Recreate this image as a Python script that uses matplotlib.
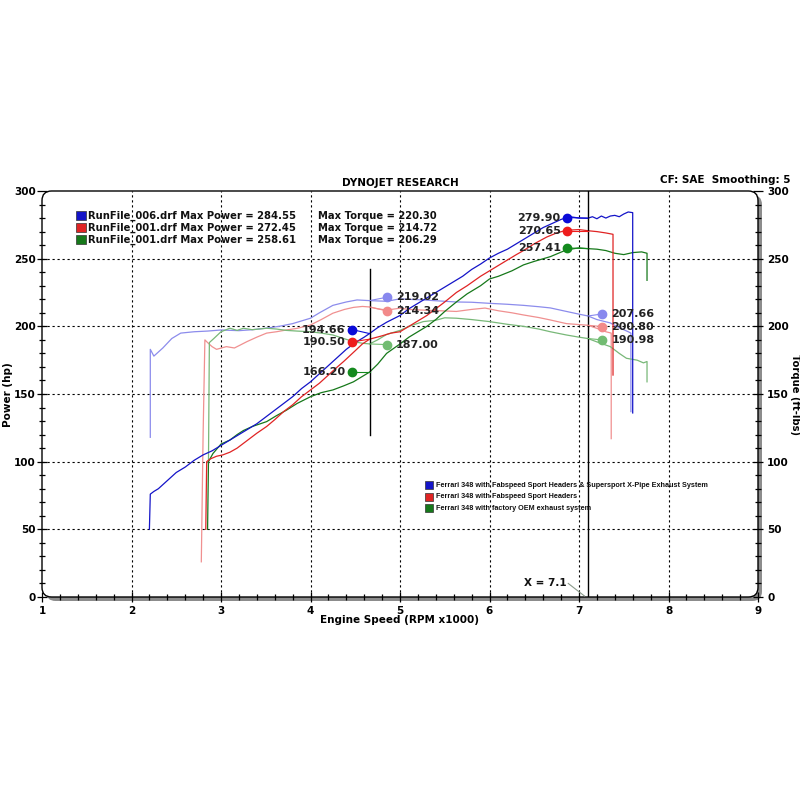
import numpy as np
import matplotlib
matplotlib.use('Agg')
import matplotlib.pyplot as plt
from matplotlib.patches import FancyBboxPatch, Rectangle

# run 006 - Fabspeed headers + X-pipe (blue)
blue_hp_rpm = [2.20, 2.21, 2.25, 2.30, 2.40, 2.50, 2.60, 2.70, 2.80, 2.90, 3.00, 3.10, 3.20,
               3.30, 3.40, 3.50, 3.60, 3.70, 3.80, 3.90, 4.00, 4.10, 4.20, 4.30, 4.40, 4.50,
               4.60, 4.66, 4.75, 4.85, 5.00, 5.10, 5.20, 5.30, 5.40, 5.50, 5.60, 5.70, 5.80,
               5.90, 6.00, 6.10, 6.20, 6.30, 6.40, 6.50, 6.60, 6.70, 6.80, 6.90, 7.00, 7.10,
               7.15, 7.20, 7.25, 7.30, 7.35, 7.40, 7.45, 7.50, 7.55, 7.60, 7.60]
blue_hp = [50, 76, 78, 80, 86, 92, 96, 101, 105, 108, 112, 116, 120,
           124, 128, 133, 138, 143, 148, 154, 159, 165, 171, 177, 183, 188,
           192, 194.7, 199, 203, 208, 213, 217, 221, 225, 229, 233, 237, 242,
           246, 250.5, 254, 257, 261, 265, 269, 273, 276, 279, 281, 280, 279.9,
           281, 279.5, 281.5, 280, 281.5, 282, 281, 283, 284.5, 284, 136]
blue_tq_rpm = [2.21, 2.21, 2.25, 2.30, 2.35, 2.45, 2.55, 2.70, 2.85, 3.00, 3.20, 3.35, 3.50,
               3.65, 3.80, 4.00, 4.10, 4.25, 4.40, 4.52, 4.66, 4.85, 5.00, 5.15, 5.26, 5.45,
               5.63, 5.80, 6.00, 6.20, 6.38, 6.55, 6.68, 6.86, 7.00, 7.10, 7.20, 7.35, 7.45,
               7.55, 7.58, 7.58]
blue_tq = [118, 183, 178, 181, 184, 191, 195, 196, 196.5, 197.3, 196.8, 197.5, 198.6,
           200, 202, 206, 210, 215.5, 218, 219.5, 219, 218.5, 220.3, 219.8, 219.5, 218.7,
           218, 217.8, 217, 216.3, 215.5, 214.5, 213.6, 211, 209, 207.66, 205, 202.5, 199,
           196, 195, 137]

# run 001 - Fabspeed headers (red)
red_hp_rpm = [2.83, 2.84, 2.88, 2.95, 3.02, 3.10, 3.18, 3.30, 3.40, 3.51, 3.60, 3.70, 3.80,
              3.90, 4.00, 4.10, 4.20, 4.30, 4.37, 4.50, 4.58, 4.66, 4.80, 4.90, 5.00, 5.10,
              5.20, 5.30, 5.40, 5.50, 5.63, 5.75, 5.90, 6.00, 6.10, 6.20, 6.30, 6.38, 6.50,
              6.64, 6.75, 6.86, 7.00, 7.10, 7.20, 7.30, 7.38, 7.38]
red_hp = [50, 100, 102, 104, 105, 107, 110, 116, 121, 126, 131, 137, 142,
          148, 153, 158, 164, 170, 174, 182, 187, 190.5, 193, 195, 196, 200,
          204, 208, 213, 218, 225, 230, 237, 241, 245, 249, 253, 256, 261,
          266, 269, 271, 271.5, 270.65, 270, 269, 268, 164]
red_tq_rpm = [2.78, 2.80, 2.82, 2.85, 2.90, 2.95, 3.06, 3.15, 3.21, 3.29, 3.40, 3.51, 3.62,
              3.73, 3.85, 4.00, 4.12, 4.25, 4.38, 4.48, 4.58, 4.66, 4.75, 4.85, 5.00, 5.10,
              5.26, 5.45, 5.63, 5.80, 5.95, 6.10, 6.25, 6.38, 6.55, 6.68, 6.86, 7.00, 7.10,
              7.20, 7.30, 7.36, 7.36]
red_tq = [26, 120, 190, 188, 185, 183, 185, 184, 186, 188.7, 192, 195, 196,
          197.3, 198.5, 201, 205, 209.7, 212.5, 214, 214.7, 214.3, 213, 212, 213.4, 212.5,
          212, 211.5, 211, 212.5, 213.5, 211.5, 210, 208.4, 206.5, 204.7, 202, 201.3, 200.8,
          198.5, 196, 195, 117]

# run 001 - factory OEM exhaust (green)
green_hp_rpm = [2.85, 2.86, 2.91, 3.00, 3.10, 3.18, 3.25, 3.35, 3.51, 3.62, 3.73, 3.85, 4.00,
                4.12, 4.25, 4.37, 4.48, 4.58, 4.66, 4.75, 4.85, 5.00, 5.10, 5.20, 5.30, 5.40,
                5.50, 5.63, 5.75, 5.90, 6.00, 6.10, 6.25, 6.38, 6.50, 6.68, 6.86, 7.00, 7.10,
                7.20, 7.30, 7.40, 7.50, 7.60, 7.70, 7.76, 7.76]
green_hp = [50, 100, 106, 113, 116, 120, 123, 126, 129.6, 134, 138, 143, 148,
            151, 153, 156, 159, 163, 166.2, 172, 180, 187, 192, 196, 200, 205,
            211, 218, 224, 230, 235, 237, 241, 245.4, 248, 251.5, 256.5, 258, 257.41,
            257, 256, 254, 253, 254.5, 255, 254, 234]
green_tq_rpm = [2.86, 2.87, 2.92, 3.00, 3.10, 3.18, 3.25, 3.35, 3.51, 3.62, 3.73, 3.85, 4.00,
                4.12, 4.25, 4.37, 4.48, 4.58, 4.66, 4.75, 4.85, 5.00, 5.10, 5.26, 5.40, 5.50,
                5.63, 5.80, 6.00, 6.20, 6.38, 6.55, 6.68, 6.86, 7.00, 7.10, 7.20, 7.35, 7.45,
                7.53, 7.65, 7.72, 7.76, 7.76]
green_tq = [100, 188, 191, 196, 198.6, 197, 198.6, 197.5, 198.6, 198, 197, 196.5, 196,
            195, 193.6, 191, 188.7, 187.5, 187, 190, 194, 197, 200, 203.5, 204.5, 206.3,
            206, 205, 203.5, 201.5, 200, 198, 196, 193.6, 192, 190.98, 188.5, 185, 180,
            176.4, 175, 173, 174, 159]

# cursor readouts
cursor_rpm = [4.66, 7.1]
cursor_hp = [[194.66, 190.50, 166.20], [279.90, 270.65, 257.41]]
cursor_tq = [[219.02, 214.34, 187.00], [207.66, 200.80, 190.98]]

legend_runs = ['RunFile_006.drf', 'RunFile_001.drf', 'RunFile_001.drf']
max_power = ['284.55', '272.45', '258.61']
max_torque = ['220.30', '214.72', '206.29']
legend_desc = ['Ferrari 348 with Fabspeed Sport Headers & Supersport X-Pipe Exhaust System',
               'Ferrari 348 with Fabspeed Sport Headers',
               'Ferrari 348 with factory OEM exhaust system']

dark = ['#1414c8', '#e02424', '#16781a']
light = ['#8c8cec', '#f09090', '#78b878']
dot_dark = ['#0a0ad8', '#ee1c1c', '#148a1e']
dot_light = ['#8888ee', '#f28a8a', '#72bc72']

plt.rcParams['font.family'] = ['DejaVu Sans']
plt.rcParams['font.weight'] = 'bold'

fig = plt.figure(figsize=(8, 8), dpi=100)
fig.patch.set_facecolor('white')
L, B, W, H = 42 / 800, 203 / 800, 716 / 800, 406 / 800
ax = fig.add_axes([L, B, W, H])
ax.patch.set_visible(False)
for s in ax.spines.values():
    s.set_visible(False)

# frame with grey drop shadow on right / bottom
shadow = FancyBboxPatch((L + 4 / 800, B - 4 / 800), W, H, boxstyle='round,pad=0,rounding_size=0.012',
                        transform=fig.transFigure, facecolor='#8c8c8c', edgecolor='none',
                        zorder=-3)
frame = FancyBboxPatch((L, B), W, H, boxstyle='round,pad=0,rounding_size=0.012',
                       transform=fig.transFigure, facecolor='white', edgecolor='black',
                       linewidth=1.0, zorder=-2)
fig.patches.extend([shadow, frame])

ax.set_xlim(1, 9)
ax.set_ylim(0, 300)

for xv in range(2, 9):
    ax.axvline(xv, color='black', lw=0.8, ls=(0, (2, 2.5)), zorder=1)
for yv in range(50, 300, 50):
    ax.axhline(yv, color='black', lw=0.8, ls=(0, (2, 2.5)), zorder=1)

curves = [(blue_tq_rpm, blue_tq, light[0]), (red_tq_rpm, red_tq, light[1]),
          (green_tq_rpm, green_tq, light[2]),
          (green_hp_rpm, green_hp, dark[2]), (red_hp_rpm, red_hp, dark[1]),
          (blue_hp_rpm, blue_hp, dark[0])]
for rpm, val, col in curves:
    ax.plot(rpm, val, color=col, lw=0.9, zorder=3)

# cursor lines
ax.plot([cursor_rpm[0], cursor_rpm[0]], [120, 242], color='black', lw=1.0, zorder=4)
ax.axvline(cursor_rpm[1], color='black', lw=1.0, zorder=4)

# readout markers: (power marker x, torque marker x, power label nudges, torque label nudges)
layout = [(4.46, 4.855, [3.0, -2.0, 0.0], [2.5, -3.0, -0.5]),
          (6.866, 7.26, [0.5, 0.0, 0.5], [1.5, -1.0, -1.0])]
for k, cx in enumerate(cursor_rpm):
    px, tx, hp_nudge, tq_nudge = layout[k]
    for i in range(3):
        hy = cursor_hp[k][i] + hp_nudge[i]
        ty = cursor_tq[k][i] + tq_nudge[i]
        ax.plot([px, cx], [hy, cursor_hp[k][i]], color=dot_dark[i], lw=0.8, zorder=5)
        ax.plot([cx, tx], [cursor_tq[k][i], ty], color=dot_light[i], lw=0.8, zorder=5)
        ax.plot(px, hy, 'o', color=dot_dark[i], ms=6, zorder=6)
        ax.plot(tx, ty, 'o', color=dot_light[i], ms=6, zorder=6)
        ax.text(px - 0.07, hy, '%.2f' % cursor_hp[k][i], ha='right', va='center',
                fontsize=8, color='#222222', zorder=7)
        ax.text(tx + 0.1, ty, '%.2f' % cursor_tq[k][i], ha='left', va='center',
                fontsize=8, color='#222222', zorder=7)

# X = 7.1 readout
ax.text(6.86, 10.5, 'X = 7.1', ha='right', va='center', fontsize=7.5, color='#111111', zorder=7)
ax.plot([6.88, 7.06], [10, 0.8], color='#8a9a8a', lw=0.8, zorder=5)

# top-left run legend
for i in range(3):
    yy = 281.5 - i * 8.8
    ax.add_patch(Rectangle((1.385, yy - 3.2), 0.11, 6.6, facecolor=dark[i], edgecolor='#333333',
                           lw=0.5, zorder=6))
    ax.text(1.51, yy, '%s Max Power = %s' % (legend_runs[i], max_power[i]), ha='left',
            va='center', fontsize=7.2, color='#111111', zorder=7)
    ax.text(4.08, yy, 'Max Torque = %s' % max_torque[i], ha='left', va='center',
            fontsize=7.2, color='#111111', zorder=7)

# bottom-right description legend
for i in range(3):
    yy = 82.5 - i * 8.4
    ax.add_patch(Rectangle((5.28, yy - 2.8), 0.09, 5.8, facecolor=dark[i], edgecolor='#333333',
                           lw=0.5, zorder=6))
    ax.text(5.40, yy, legend_desc[i], ha='left', va='center', fontsize=5.2,
            family='Liberation Sans', color='#111111', zorder=7)

# ticks
ax.set_xticks(np.arange(1, 10, 1))
ax.set_xticks(np.arange(1, 9.01, 0.2), minor=True)
ax.set_yticks(np.arange(0, 301, 50))
ax.set_yticks(np.arange(0, 301, 10), minor=True)
ax.yaxis.set_ticks_position('both')
ax.tick_params(axis='both', which='major', direction='inout', length=7, width=0.9,
               labelsize=7.5, colors='black')
ax.tick_params(axis='both', which='minor', direction='inout', length=5, width=0.9)
ax.tick_params(axis='y', which='both', left=True, right=True, labelleft=True, labelright=True)
ax.tick_params(axis='y', which='major', pad=1)
ax.tick_params(axis='x', which='major', pad=3)
for lab in ax.get_yticklabels() + ax.get_xticklabels():
    lab.set_fontweight('bold')
# shift right tick labels past the grey shadow
for t in ax.yaxis.get_major_ticks():
    t.label2.set_x(1.0 + 3 / 716)

fig.text(400 / 800, 1 - 183 / 800, 'DYNOJET RESEARCH', ha='center', va='center',
         fontsize=7.5, fontweight='bold')
fig.text(790 / 800, 1 - 180 / 800, 'CF: SAE  Smoothing: 5', ha='right', va='center',
         fontsize=7.5, fontweight='bold')
fig.text(400 / 800, 1 - 620 / 800, 'Engine Speed (RPM x1000)', ha='center', va='center',
         fontsize=7.5, fontweight='bold')
fig.text(8 / 800, 1 - 395 / 800, 'Power (hp)', ha='center', va='center', rotation=90,
         fontsize=7.5, fontweight='bold')
fig.text(795 / 800, 1 - 395 / 800, 'Torque (ft-lbs)', ha='center', va='center', rotation=270,
         fontsize=7.2, fontweight='bold')

fig.savefig('out.png', dpi=100, facecolor='white')
